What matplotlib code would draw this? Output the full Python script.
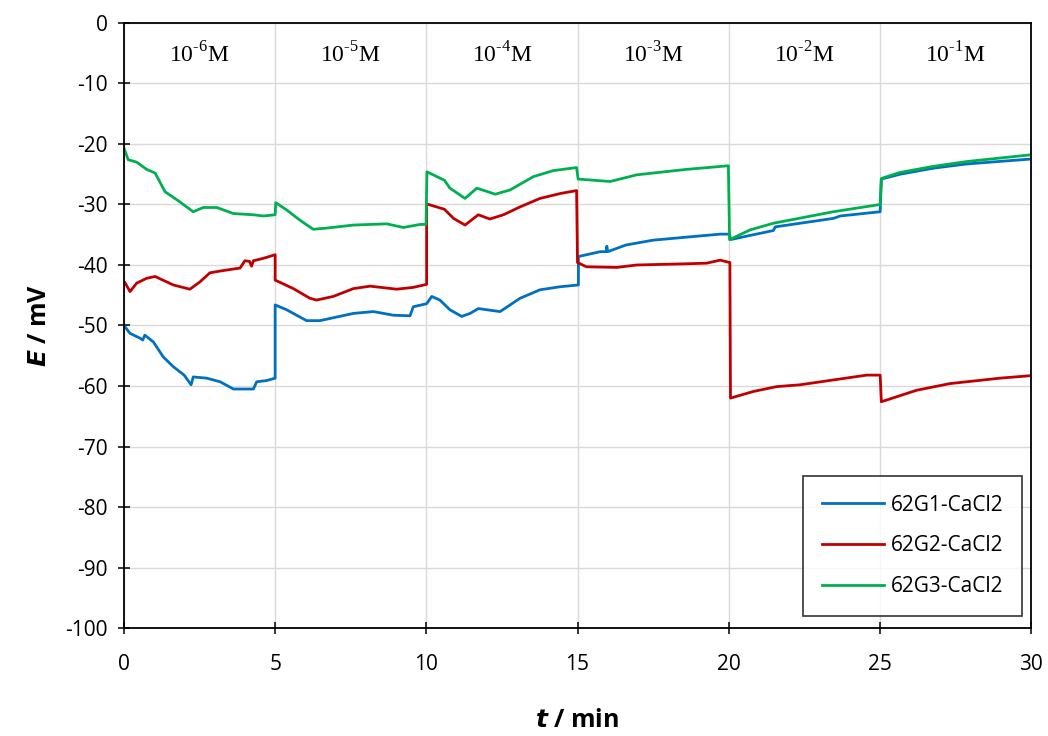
import matplotlib
matplotlib.use("Agg")
import matplotlib.pyplot as plt

# ---- data ----
t_g1 = [0.03, 0.2, 0.53, 0.62, 0.69, 0.97, 1.3, 1.63, 1.99, 2.22, 2.29, 2.73, 3.18, 3.62, 4.28, 4.39, 4.72, 5.0,
        5.0, 5.38, 6.04, 6.48, 7.59, 8.25, 8.91, 9.46, 9.57, 10.01,
        10.18, 10.45, 10.78, 11.17, 11.45, 11.72, 12.0, 12.44, 13.1, 13.76, 14.42, 15.03,
        15.03, 15.75, 15.95, 15.97, 16.0, 16.6, 17.5, 18.6, 19.72, 20.03,
        20.06, 21.48, 21.54, 23.46, 23.69, 25.01,
        25.05, 25.67, 26.77, 27.88, 29.97]
e_g1 = [-50.2, -51.3, -52.1, -52.4, -51.6, -52.7, -55.2, -56.8, -58.2, -59.8, -58.5, -58.7, -59.3, -60.5, -60.5, -59.3, -59.1, -58.7,
        -46.6, -47.4, -49.2, -49.2, -48.0, -47.7, -48.3, -48.4, -46.9, -46.4,
        -45.2, -45.8, -47.4, -48.5, -48.0, -47.2, -47.4, -47.7, -45.5, -44.1, -43.6, -43.3,
        -38.6, -37.8, -37.8, -36.9, -37.8, -36.7, -35.9, -35.4, -34.9, -34.9,
        -35.8, -34.3, -33.7, -32.3, -31.9, -31.2,
        -25.8, -25.0, -24.0, -23.3, -22.5]

t_g2 = [0.03, 0.2, 0.42, 0.75, 1.03, 1.63, 2.18, 2.51, 2.84, 3.18, 3.84, 4.0, 4.15, 4.22, 4.28, 4.61, 5.0,
        5.0, 5.6, 6.15, 6.37, 6.92, 7.59, 8.14, 9.02, 9.57, 10.01,
        10.01, 10.6, 10.9, 11.28, 11.72, 12.1, 12.55, 13.1, 13.76, 14.42, 14.97,
        15.0, 15.3, 16.3, 16.96, 18.6, 19.27, 19.72, 20.04,
        20.06, 20.82, 21.59, 22.36, 23.46, 24.57, 25.01,
        25.05, 26.22, 27.32, 28.98, 29.97]
e_g2 = [-42.9, -44.4, -43.0, -42.2, -41.9, -43.3, -44.0, -42.8, -41.3, -41.0, -40.5, -39.3, -39.4, -40.2, -39.3, -38.9, -38.3,
        -42.5, -43.9, -45.5, -45.8, -45.2, -43.9, -43.5, -44.0, -43.7, -43.2,
        -29.9, -30.8, -32.3, -33.4, -31.7, -32.4, -31.7, -30.4, -29.0, -28.2, -27.7,
        -39.6, -40.3, -40.4, -40.0, -39.8, -39.7, -39.2, -39.6,
        -62.0, -60.9, -60.1, -59.8, -59.0, -58.2, -58.2,
        -62.6, -60.7, -59.6, -58.7, -58.3]

t_g3 = [0.0, 0.14, 0.42, 0.75, 1.03, 1.36, 1.8, 2.29, 2.62, 3.07, 3.62, 4.28, 4.61, 5.0,
        5.02, 5.38, 5.82, 6.26, 6.7, 7.59, 8.69, 9.24, 9.79, 9.99,
        10.02, 10.6, 10.78, 11.28, 11.67, 12.28, 12.77, 13.54, 14.2, 14.97,
        15.02, 16.08, 16.96, 18.6, 19.99,
        20.03, 20.71, 21.48, 23.46, 25.01,
        25.05, 25.67, 26.77, 27.88, 29.97]
e_g3 = [-20.7, -22.6, -23.0, -24.2, -24.8, -27.9, -29.4, -31.2, -30.5, -30.5, -31.5, -31.7, -31.9, -31.7,
        -29.7, -30.9, -32.6, -34.1, -33.9, -33.4, -33.2, -33.8, -33.3, -33.3,
        -24.6, -26.0, -27.3, -29.0, -27.3, -28.3, -27.6, -25.4, -24.4, -23.9,
        -25.8, -26.2, -25.1, -24.2, -23.6,
        -35.8, -34.2, -33.1, -31.2, -30.0,
        -25.7, -24.7, -23.7, -22.9, -21.8]

series_labels = ["62G1-CaCl2", "62G2-CaCl2", "62G3-CaCl2"]
conc_labels = ["10$^{\\text{-6}}$M", "10$^{\\text{-5}}$M", "10$^{\\text{-4}}$M",
               "10$^{\\text{-3}}$M", "10$^{\\text{-2}}$M", "10$^{\\text{-1}}$M"]
conc_pos = [2.5, 7.5, 12.5, 17.5, 22.5, 27.5]
x_ticks = [0, 5, 10, 15, 20, 25, 30]
y_ticks = [0, -10, -20, -30, -40, -50, -60, -70, -80, -90, -100]

colors = ["#0070C0", "#C00000", "#00B050"]

plt.rcParams['mathtext.fontset'] = 'custom'
plt.rcParams['mathtext.rm'] = 'Liberation Serif'
plt.rcParams['axes.unicode_minus'] = False

fig = plt.figure(figsize=(10.48, 7.36), dpi=100)
ax = fig.add_axes([0.1183, 0.1467, 0.8655, 0.8221])

for t, e, lab, c in zip([t_g1, t_g2, t_g3], [e_g1, e_g2, e_g3], series_labels, colors):
    ax.plot(t, e, color=c, lw=2.0, label=lab)

ax.set_xlim(0, 30)
ax.set_ylim(-100, 0)
ax.set_xticks(x_ticks)
ax.set_yticks(y_ticks)
ax.grid(True, color="#d9d9d9", lw=1.0)
ax.set_axisbelow(True)
for s in ax.spines.values():
    s.set_color("black")
    s.set_linewidth(1.3)
ax.tick_params(direction="inout", length=9, width=1.1, labelsize=15)
ax.tick_params(axis="x", pad=14)
ax.tick_params(axis="y", pad=7)
for lab in ax.get_xticklabels() + ax.get_yticklabels():
    lab.set_fontfamily("Open Sans")

ax.set_xlabel("$\\mathbfit{t}$ / min", fontsize=18, fontweight="bold", family="Open Sans", labelpad=24)
ax.set_ylabel("$\\mathbfit{E}$ / mV", fontsize=18, fontweight="bold", family="Open Sans", labelpad=10)

for x, s in zip(conc_pos, conc_labels):
    ax.text(x, -5.3, s, ha="center", va="center", fontsize=17, family="Liberation Serif")

leg = ax.legend(loc="lower right", frameon=True, fancybox=False, edgecolor="black",
                borderpad=0.9, labelspacing=0.95, handlelength=3.0, handletextpad=0.3,
                borderaxespad=0.0, bbox_to_anchor=(0.990, 0.02), prop={"family": "Open Sans", "size": 15})
leg.get_frame().set_linewidth(1.2)

fig.savefig("out.png", dpi=100)
